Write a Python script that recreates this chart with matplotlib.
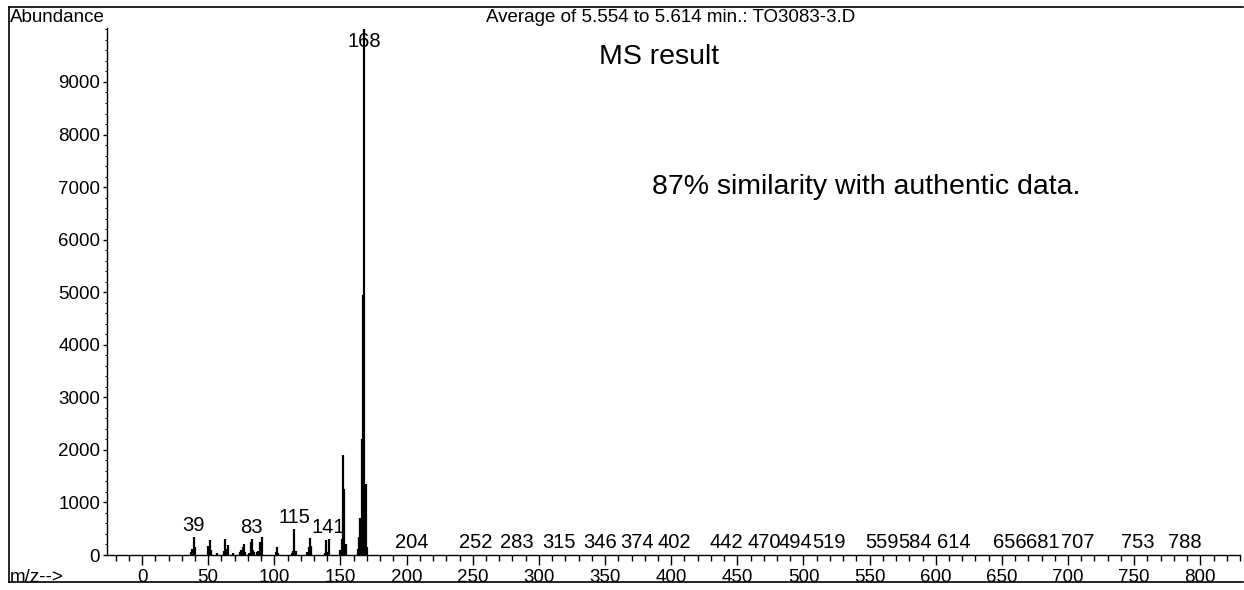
import matplotlib
matplotlib.use("Agg")
import matplotlib.pyplot as plt
from matplotlib.lines import Line2D
from matplotlib.ticker import MultipleLocator, FixedLocator

plt.rcParams['font.family'] = ['Liberation Sans', 'DejaVu Sans']

# spectrum peaks (m/z, abundance)
mz = [37, 38, 39, 40, 50, 51, 52, 57, 62, 63, 64, 65, 69, 74, 75, 76, 77, 78,
      81, 82, 83, 84, 85, 87, 88, 89, 90, 91, 101, 102, 103, 113, 114, 115, 116,
      125, 126, 127, 128, 138, 139, 140, 141, 150, 151, 152, 153, 154,
      163, 164, 165, 166, 167, 168, 169, 170]
abundance = [50, 120, 350, 160, 180, 290, 90, 30, 70, 300, 120, 190, 40, 60, 90, 160, 200, 60,
             40, 250, 300, 90, 60, 50, 70, 250, 200, 350, 50, 160, 40, 40, 70, 490, 80,
             60, 150, 330, 180, 30, 290, 60, 300, 90, 300, 1900, 1250, 200,
             120, 350, 700, 2200, 4950, 10000, 1350, 150]

# labelled masses (high-mass ones sit on tiny peaks)
label_mz = [39, 83, 115, 141, 168, 204, 252, 283, 315, 346, 374, 402, 442, 470,
            494, 519, 559, 584, 614, 656, 681, 707, 753, 788]
label_y = [350, 300, 490, 300, 10000, 10, 10, 10, 10, 10, 10, 10, 10, 10,
           10, 10, 10, 10, 10, 10, 10, 10, 10, 10]

y_ticks = [0, 1000, 2000, 3000, 4000, 5000, 6000, 7000, 8000, 9000]

W, H = 1244, 590
fig = plt.figure(figsize=(W / 100, H / 100), dpi=100)
ax = fig.add_axes([107 / W, 35 / H, (1240 - 107) / W, (555 - 28) / H])

ax.vlines(mz, 0, abundance, color='black', linewidth=1.6)

for m, y in zip(label_mz, label_y):
    if y >= 9000:
        # base peak label is printed just under the top of the line
        ax.annotate(str(m), (m, y), xytext=(0, -2), textcoords='offset points',
                    ha='center', va='top', fontsize=14.5)
    else:
        ax.annotate(str(m), (m, y), xytext=(0, 1.5), textcoords='offset points',
                    ha='center', va='bottom', fontsize=14.5)

ax.set_xlim(-26.5, 830)
ax.set_ylim(0, 10027)

for s in ['top', 'right']:
    ax.spines[s].set_visible(False)
for s in ['left', 'bottom']:
    ax.spines[s].set_linewidth(1.0)

ax.xaxis.set_major_locator(MultipleLocator(50))
ax.xaxis.set_minor_locator(MultipleLocator(10))
ax.yaxis.set_major_locator(FixedLocator(y_ticks))
ax.yaxis.set_minor_locator(MultipleLocator(200))
ax.tick_params(axis='x', which='major', length=7, width=1, pad=3, labelsize=13.5)
ax.tick_params(axis='x', which='minor', length=4, width=1)
ax.tick_params(axis='y', which='major', length=3, width=1, pad=2, labelsize=13.5)
ax.tick_params(axis='y', which='minor', length=1.5, width=0.8)

# header and notes
fig.text(10 / W, 1 - 18 / H, 'Abundance', fontsize=13.5, va='center', ha='left')
fig.text(671 / W, 1 - 18 / H, 'Average of 5.554 to 5.614 min.: TO3083-3.D',
         fontsize=13.5, va='center', ha='center')
fig.text(659 / W, 1 - 57 / H, 'MS result', fontsize=20.5, va='center', ha='center')
fig.text(652 / W, 1 - 187 / H, '87% similarity with authentic data.', fontsize=20.5,
         va='center', ha='left')
fig.text(10 / W, 1 - 577 / H, 'm/z-->', fontsize=13.5, va='center', ha='left')

# frame of the printout
fig.add_artist(Line2D([9 / W, 1243 / W], [1 - 7 / H] * 2, color='black', lw=1.2))
fig.add_artist(Line2D([9 / W, 9 / W], [1 - 7 / H, 1 - 582 / H], color='black', lw=1.2))
fig.add_artist(Line2D([9 / W, 1243 / W], [1 - 582 / H] * 2, color='black', lw=1.2))

fig.savefig('out.png', dpi=100)
